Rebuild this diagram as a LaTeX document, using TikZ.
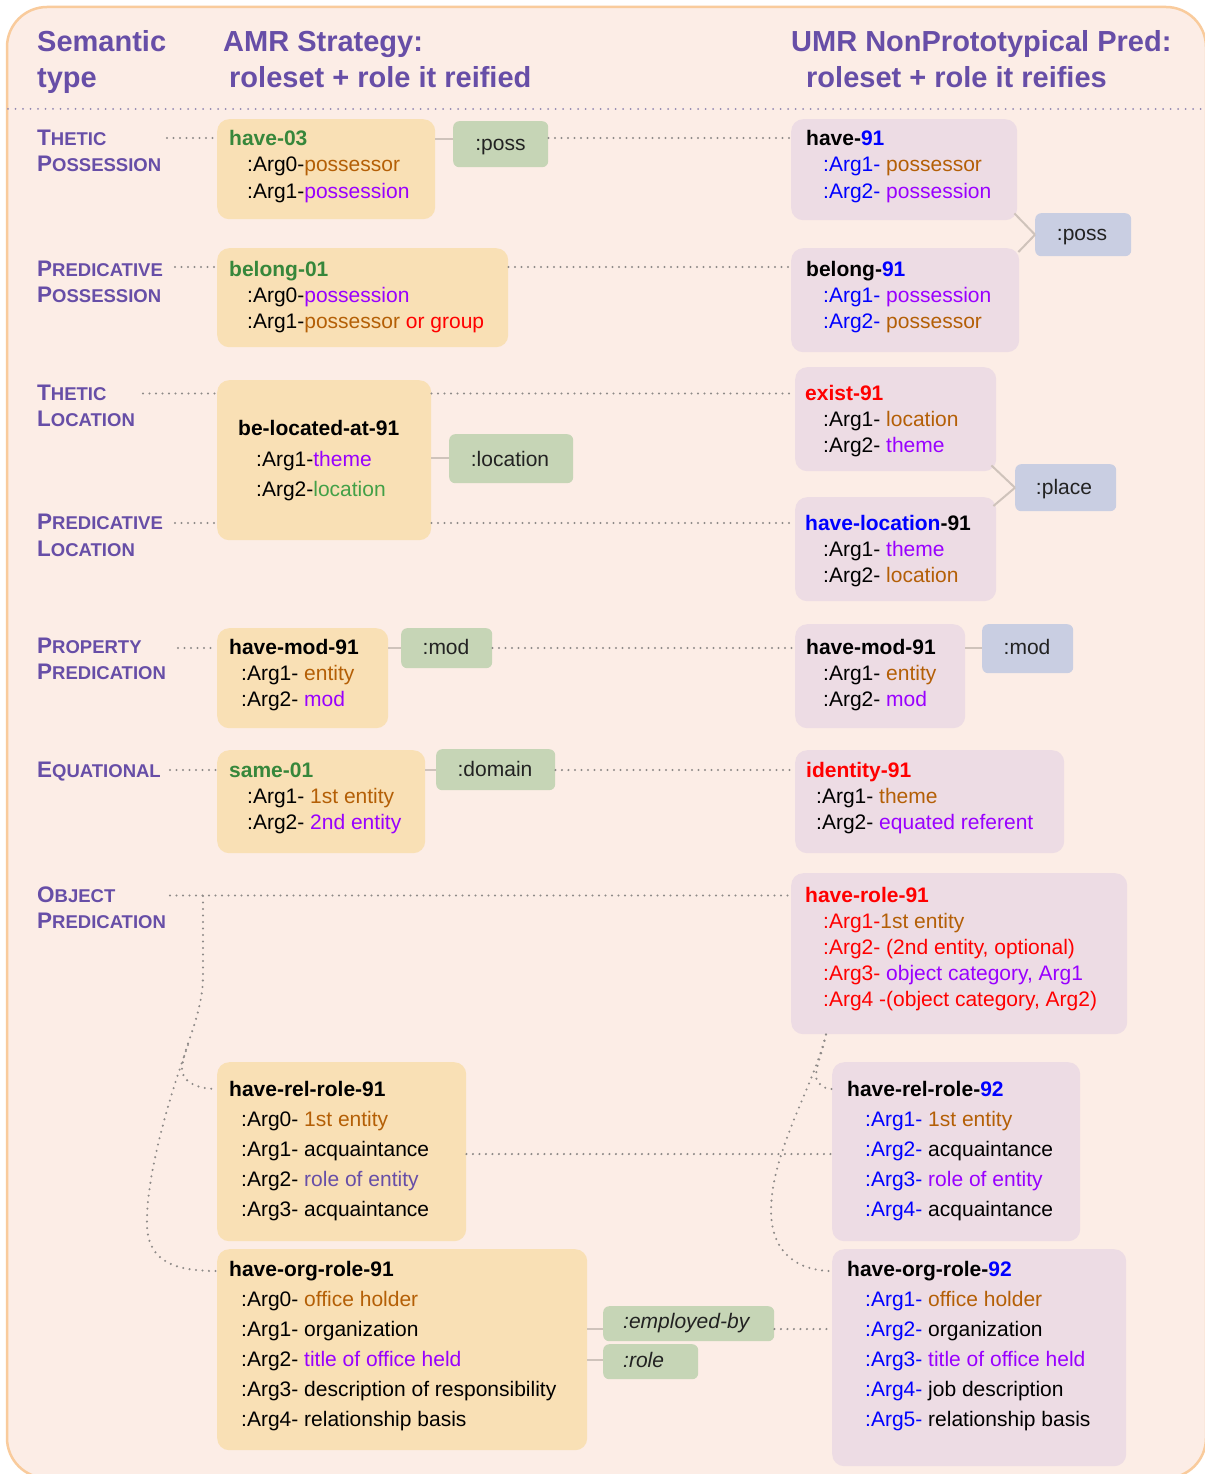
\documentclass[tikz,border=0pt]{standalone}
\usepackage{fontspec}
\setmainfont{Liberation Sans}
\usetikzlibrary{calc}
\definecolor{bgc}{HTML}{FCEDE6}
\definecolor{frm}{HTML}{F9CB9C}
\definecolor{obx}{HTML}{F9E0B5}
\definecolor{pbx}{HTML}{EDDCE4}
\definecolor{gtag}{HTML}{C6D5B6}
\definecolor{btag}{HTML}{C9CEE2}
\definecolor{hdr}{HTML}{674EA7}
\definecolor{grn}{HTML}{37873B}
\definecolor{lgrn}{HTML}{43A047}
\definecolor{brn}{HTML}{B45F06}
\definecolor{prp}{HTML}{9900FF}
\definecolor{blu}{HTML}{0000FF}
\definecolor{rd}{HTML}{FF0000}
\definecolor{dotc}{HTML}{8E8A88}
\definecolor{sepc}{HTML}{8F86B2}
\definecolor{conn}{HTML}{CFC3BB}
\definecolor{tagtxt}{HTML}{222222}
\newcommand\Cb[1]{\textcolor{brn}{#1}}
\newcommand\Cp[1]{\textcolor{prp}{#1}}
\newcommand\Cu[1]{\textcolor{blu}{#1}}
\newcommand\Cr[1]{\textcolor{rd}{#1}}
\newcommand\Ch[1]{\textcolor{hdr}{#1}}
\newcommand\Cg[1]{\textcolor{lgrn}{#1}}
\newcommand\SC[2]{{\fontsize{22.5}{25}\selectfont #1}{\fontsize{18.5}{25}\selectfont #2}}
\tikzset{
  obox/.style={fill=obx, rounded corners=12pt, anchor=north west, inner sep=0pt},
  pbox/.style={fill=pbx, rounded corners=12pt, anchor=north west, inner sep=0pt},
  gtg/.style={fill=gtag, rounded corners=6pt, anchor=north west, inner sep=0pt},
  btg/.style={fill=btag, rounded corners=6pt, anchor=north west, inner sep=0pt},
  txt/.style={anchor=base west, inner sep=0pt, font=\fontsize{21}{25}\selectfont},
  ttl/.style={anchor=base west, inner sep=0pt, font=\fontsize{21}{25}\selectfont\bfseries},
  tagt/.style={anchor=base, inner sep=0pt, text=tagtxt, font=\fontsize{21}{25}\selectfont},
  tagi/.style={anchor=base west, inner sep=0pt, text=tagtxt, font=\fontsize{21}{25}\selectfont\itshape},
  hd/.style={anchor=base west, inner sep=0pt, text=hdr, font=\fontsize{29}{34}\selectfont\bfseries},
  lab/.style={anchor=base west, inner sep=0pt, text=hdr, font=\bfseries},
  dots/.style={draw=dotc, line width=2.3pt, line cap=round, dash pattern=on 0pt off 6.5pt},
  sepdots/.style={draw=sepc, line width=2pt, line cap=round, dash pattern=on 0pt off 7.5pt},
  link/.style={draw=conn, line width=2pt},
}
\begin{document}
\begin{tikzpicture}[x=1pt, y=-1pt]
\useasboundingbox (0,0) rectangle (1204,1474);
\fill[white] (0,0) rectangle (1204,1474);
\draw[draw=frm, fill=bgc, line width=2.5pt, rounded corners=40pt] (7,7) rectangle (1206,1478);

% headers
\node[hd] (h1) at (37,52) {Semantic};
\node[hd] (h2) at (37,88) {type};
\node[hd] (h3) at (223,52) {AMR Strategy:};
\node[hd] (h4) at (229,88) {roleset + role it reified};
\node[hd] (h5) at (791,52) {UMR NonPrototypical Pred:};
\node[hd] (h6) at (806,88) {roleset + role it reifies};
\coordinate (sepL) at (8,109);
\coordinate (sepR) at (1204,109);
\draw[sepdots] (sepL) -- (sepR);

% row labels
\node[lab] (l1a) at (37,146) {\SC{T}{HETIC}};
\node[lab] (l1b) at (37,172) {\SC{P}{OSSESSION}};
\node[lab] (l2a) at (37,276) {\SC{P}{REDICATIVE}};
\node[lab] (l2b) at (37,302) {\SC{P}{OSSESSION}};
\node[lab] (l3a) at (37,400) {\SC{T}{HETIC}};
\node[lab] (l3b) at (37,426) {\SC{L}{OCATION}};
\node[lab] (l4a) at (37,529) {\SC{P}{REDICATIVE}};
\node[lab] (l4b) at (37,556) {\SC{L}{OCATION}};
\node[lab] (l5a) at (37,653) {\SC{P}{ROPERTY}};
\node[lab] (l5b) at (37,679) {\SC{P}{REDICATION}};
\node[lab] (l6a) at (37,777) {\SC{E}{QUATIONAL}};
\node[lab] (l7a) at (37,902) {\SC{O}{BJECT}};
\node[lab] (l7b) at (37,928) {\SC{P}{REDICATION}};

% left (AMR) boxes
\node[obox, minimum width=218, minimum height=100] (a1) at (217,119) {};
\node[obox, minimum width=291, minimum height=99] (a2) at (217,248) {};
\node[obox, minimum width=214, minimum height=160] (a3) at (217,380) {};
\node[obox, minimum width=171, minimum height=100] (a4) at (217,628) {};
\node[obox, minimum width=208, minimum height=103] (a5) at (217,750) {};
\node[obox, minimum width=249, minimum height=179] (a6) at (217,1062) {};
\node[obox, minimum width=370, minimum height=201] (a7) at (217,1249) {};

% green tags
\node[gtg, minimum width=95, minimum height=46] (g1) at (453,121) {};
\node[gtg, minimum width=124, minimum height=49] (g2) at (449,434) {};
\node[gtg, minimum width=91, minimum height=40] (g3) at (401,628) {};
\node[gtg, minimum width=119, minimum height=41] (g4) at (436,749) {};
\node[gtg, minimum width=171, minimum height=35] (g5) at (603,1306) {};
\node[gtg, minimum width=95, minimum height=35] (g6) at (603,1344) {};

% right (UMR) boxes
\node[pbox, minimum width=226, minimum height=101] (b1) at (791,119) {};
\node[pbox, minimum width=228, minimum height=104] (b2) at (791,248) {};
\node[pbox, minimum width=201, minimum height=104] (b3) at (795,367) {};
\node[pbox, minimum width=201, minimum height=104] (b4) at (795,497) {};
\node[pbox, minimum width=170, minimum height=104] (b5) at (795,624) {};
\node[pbox, minimum width=269, minimum height=103] (b6) at (795,750) {};
\node[pbox, minimum width=336, minimum height=161] (b7) at (791,873) {};
\node[pbox, minimum width=248, minimum height=179] (b8) at (832,1062) {};
\node[pbox, minimum width=294, minimum height=217] (b9) at (832,1249) {};

% blue tags
\node[btg, minimum width=96, minimum height=43] (c1) at (1035,213) {};
\node[btg, minimum width=101, minimum height=47] (c2) at (1015,464) {};
\node[btg, minimum width=91, minimum height=49] (c3) at (982,624) {};

% solid links
\draw[link] ($(a1.north east)+(0,20)$) -- ($(g1.north west)+(0,18)$);
\draw[link] ($(a3.north east)+(0,78)$) -- ($(g2.north west)+(0,24)$);
\draw[link] ($(a4.north east)+(0,20)$) -- ($(g3.north west)+(0,20)$);
\draw[link] ($(a5.north east)+(0,20)$) -- ($(g4.north west)+(0,21)$);
\draw[link] ($(a7.north east)+(0,80)$) -- ($(g5.north west)+(0,23)$);
\draw[link] ($(a7.north east)+(0,111)$) -- ($(g6.north west)+(0,16)$);
\draw[link] ($(b1.south east)+(-3,-7)$) -- (c1.west);
\draw[link] ($(b2.north east)+(-1,4)$) -- (c1.west);
\draw[link] ($(b3.south east)+(-5,-6)$) -- (c2.west);
\draw[link] ($(b4.north east)+(-3,9)$) -- (c2.west);
\draw[link] ($(b5.north east)+(0,24)$) -- ($(c3.north west)+(0,24)$);

% dotted connectors
\coordinate (d1) at (167,138);
\coordinate (d2) at (175,267);
\coordinate (d3) at (143,393.5);
\coordinate (d4) at (175,523);
\coordinate (d5) at (178,648);
\coordinate (d6) at (170,770);
\coordinate (d7) at (170,895.5);
\draw[dots] (d1) -- ($(a1.north west)+(0,19)$);
\draw[dots] ($(g1.north east)+(0,17)$) -- ($(b1.north west)+(0,19)$);
\draw[dots] (d2) -- ($(a2.north west)+(0,19)$);
\draw[dots] ($(a2.north east)+(0,19)$) -- ($(b2.north west)+(0,19)$);
\draw[dots] (d3) -- ($(a3.north west)+(0,13.5)$);
\draw[dots] ($(a3.north east)+(0,13.5)$) -- ($(b3.north west)+(0,26.5)$);
\draw[dots] (d4) -- ($(a3.north west)+(0,143)$);
\draw[dots] ($(a3.north east)+(0,143)$) -- ($(b4.north west)+(0,26)$);
\draw[dots] (d5) -- ($(a4.north west)+(0,20)$);
\draw[dots] ($(g3.north east)+(0,20)$) -- ($(b5.north west)+(0,24)$);
\draw[dots] (d6) -- ($(a5.north west)+(0,20)$);
\draw[dots] ($(g4.north east)+(0,21)$) -- ($(b6.north west)+(0,20)$);
\draw[dots] (d7) -- ($(b7.north west)+(0,22.5)$);
\draw[dots] ($(a6.north east)+(0,92)$) -- ($(b8.north west)+(0,92)$);
\draw[dots] ($(g5.north east)+(0,23)$) -- ($(b9.north west)+(0,80)$);
% object predication branches (left)
\coordinate (oj) at (203,896);
\coordinate (ob) at (188,1045);
\draw[dots] (oj) -- (203,975) .. controls (203,1015) and (184,1045) .. (182,1068) .. controls (181,1082) and (198,1089) .. ($(a6.north west)+(0,27)$);
\draw[dots] (ob) .. controls (165,1110) and (146,1180) .. (147,1225) .. controls (148,1262) and (175,1271) .. ($(a7.north west)+(0,22)$);
% object predication branches (right)
\coordinate (hr) at ($(b7.south west)+(35,0)$);
\draw[dots] (hr) .. controls (822,1055) and (812,1075) .. (818,1082) .. controls (822,1087) and (826,1089) .. ($(b8.north west)+(0,27)$);
\draw[dots] (hr) .. controls (812,1090) and (772,1150) .. (771,1210) .. controls (771,1255) and (800,1271) .. ($(b9.north west)+(0,22)$);

% texts: left boxes
\node[ttl, text=grn] (a1t0) at (229,146) {have-03};
\node[txt] (a1t1) at (247,172) {:Arg0-\Cb{possessor}};
\node[txt] (a1t2) at (247,198) {:Arg1-\Cp{possession}};
\node[ttl, text=grn] (a2t0) at (229,276) {belong-01};
\node[txt] (a2t1) at (247,302) {:Arg0-\Cp{possession}};
\node[txt] (a2t2) at (247,328) {:Arg1-\Cb{possessor} \Cr{or group}};
\node[ttl] (a3t0) at (238,435) {be-located-at-91};
\node[txt] (a3t1) at (256,466) {:Arg1-\Cp{theme}};
\node[txt] (a3t2) at (256,496) {:Arg2-\Cg{location}};
\node[ttl] (a4t0) at (229,654) {have-mod-91};
\node[txt] (a4t1) at (241,680) {:Arg1- \Cb{entity}};
\node[txt] (a4t2) at (241,706) {:Arg2- \Cp{mod}};
\node[ttl, text=grn] (a5t0) at (229,777) {same-01};
\node[txt] (a5t1) at (247,803) {:Arg1- \Cb{1st entity}};
\node[txt] (a5t2) at (247,829) {:Arg2- \Cp{2nd entity}};
\node[ttl] (a6t0) at (229,1096) {have-rel-role-91};
\node[txt] (a6t1) at (241,1126) {:Arg0- \Cb{1st entity}};
\node[txt] (a6t2) at (241,1156) {:Arg1- acquaintance};
\node[txt] (a6t3) at (241,1186) {:Arg2- \Ch{role of entity}};
\node[txt] (a6t4) at (241,1216) {:Arg3- acquaintance};
\node[ttl] (a7t0) at (229,1276) {have-org-role-91};
\node[txt] (a7t1) at (241,1306) {:Arg0- \Cb{office holder}};
\node[txt] (a7t2) at (241,1336) {:Arg1- organization};
\node[txt] (a7t3) at (241,1366) {:Arg2- \Cp{title of office held}};
\node[txt] (a7t4) at (241,1396) {:Arg3- description of responsibility};
\node[txt] (a7t5) at (241,1426) {:Arg4- relationship basis};

% tag texts
\node[tagt] (g1t) at (500.5,151) {:poss};
\node[tagt] (g2t) at (510,466) {:location};
\node[tagt] (g3t) at (446,654) {:mod};
\node[tagt] (g4t) at (495,776) {:domain};
\node[tagi] (g5t) at (623,1328) {:employed-by};
\node[tagi] (g6t) at (623,1367) {:role};
\node[tagt] (c1t) at (1082,240) {:poss};
\node[tagt] (c2t) at (1064,494) {:place};
\node[tagt] (c3t) at (1027,654) {:mod};

% texts: right boxes
\node[ttl] (b1t0) at (806,146) {have-\Cu{91}};
\node[txt] (b1t1) at (823,172) {\Cu{:Arg1-} \Cb{possessor}};
\node[txt] (b1t2) at (823,198) {\Cu{:Arg2-} \Cp{possession}};
\node[ttl] (b2t0) at (806,276) {belong-\Cu{91}};
\node[txt] (b2t1) at (823,302) {\Cu{:Arg1-} \Cp{possession}};
\node[txt] (b2t2) at (823,328) {\Cu{:Arg2-} \Cb{possessor}};
\node[ttl, text=rd] (b3t0) at (805,400) {exist-91};
\node[txt] (b3t1) at (823,426) {:Arg1- \Cb{location}};
\node[txt] (b3t2) at (823,452) {:Arg2- \Cp{theme}};
\node[ttl] (b4t0) at (805,530) {\Cu{have-location}-91};
\node[txt] (b4t1) at (823,556) {:Arg1- \Cp{theme}};
\node[txt] (b4t2) at (823,582) {:Arg2- \Cb{location}};
\node[ttl] (b5t0) at (806,654) {have-mod-91};
\node[txt] (b5t1) at (823,680) {:Arg1- \Cb{entity}};
\node[txt] (b5t2) at (823,706) {:Arg2- \Cp{mod}};
\node[ttl, text=rd] (b6t0) at (806,777) {identity-91};
\node[txt] (b6t1) at (816,803) {:Arg1- \Cb{theme}};
\node[txt] (b6t2) at (816,829) {:Arg2- \Cp{equated referent}};
\node[ttl, text=rd] (b7t0) at (805,902) {have-role-91};
\node[txt] (b7t1) at (823,928) {\Cr{:Arg1-}\Cb{1st entity}};
\node[txt, text=rd] (b7t2) at (823,954) {:Arg2- (2nd entity, optional)};
\node[txt] (b7t3) at (823,980) {\Cr{:Arg3-} \Cp{object category, Arg1}};
\node[txt, text=rd] (b7t4) at (823,1006) {:Arg4 -(object category, Arg2)};
\node[ttl] (b8t0) at (847,1096) {have-rel-role-\Cu{92}};
\node[txt] (b8t1) at (865,1126) {\Cu{:Arg1-} \Cb{1st entity}};
\node[txt] (b8t2) at (865,1156) {\Cu{:Arg2-} acquaintance};
\node[txt] (b8t3) at (865,1186) {\Cu{:Arg3-} \Cp{role of entity}};
\node[txt] (b8t4) at (865,1216) {\Cu{:Arg4-} acquaintance};
\node[ttl] (b9t0) at (847,1276) {have-org-role-\Cu{92}};
\node[txt] (b9t1) at (865,1306) {\Cu{:Arg1-} \Cb{office holder}};
\node[txt] (b9t2) at (865,1336) {\Cu{:Arg2-} organization};
\node[txt] (b9t3) at (865,1366) {\Cu{:Arg3-} \Cp{title of office held}};
\node[txt] (b9t4) at (865,1396) {\Cu{:Arg4-} job description};
\node[txt] (b9t5) at (865,1426) {\Cu{:Arg5-} relationship basis};
\end{tikzpicture}
\end{document}
